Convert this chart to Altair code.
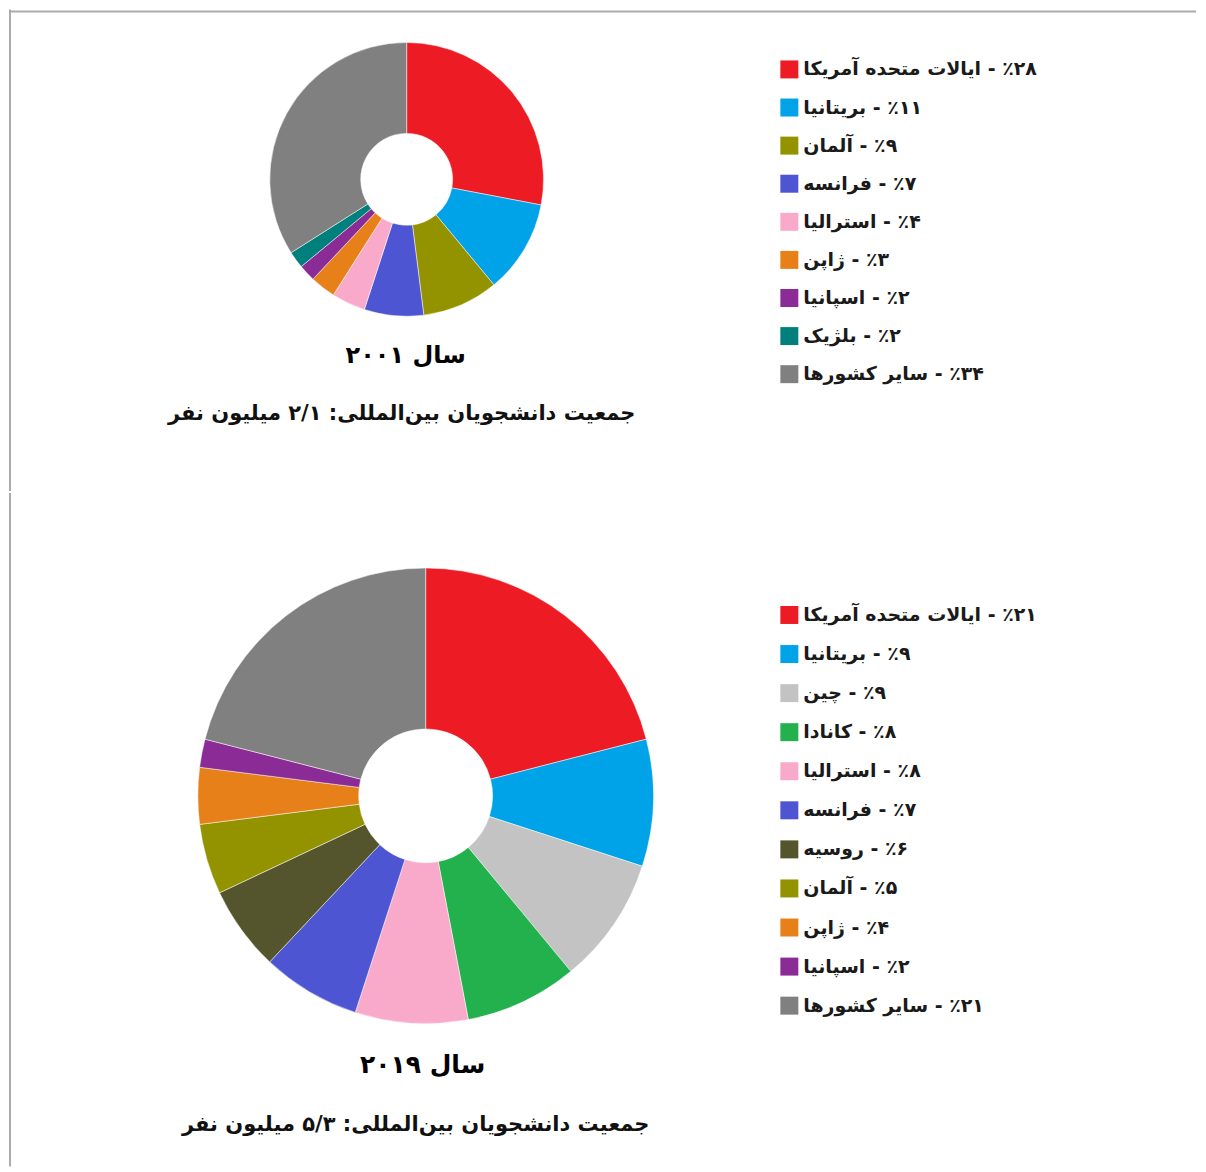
import altair as alt
import pandas as pd

# ---------------- data ----------------
names_2001 = ["ایالات متحده آمریکا", "بریتانیا", "آلمان", "فرانسه", "استرالیا",
              "ژاپن", "اسپانیا", "بلژیک", "سایر کشورها"]
values_2001 = [28, 11, 9, 7, 4, 3, 2, 2, 34]
colors_2001 = ["#ED1C24", "#00A2E8", "#939300", "#4D55D3", "#F9A9CA",
               "#E8801A", "#8B2B95", "#00807C", "#808080"]

names_2019 = ["ایالات متحده آمریکا", "بریتانیا", "چین", "کانادا", "استرالیا",
              "فرانسه", "روسیه", "آلمان", "ژاپن", "اسپانیا", "سایر کشورها"]
values_2019 = [21, 9, 9, 8, 8, 7, 6, 5, 4, 2, 21]
colors_2019 = ["#ED1C24", "#00A2E8", "#C3C3C3", "#22B14C", "#F9A9CA",
               "#4D55D3", "#55552D", "#939300", "#E8801A", "#8B2B95", "#808080"]

years = ["2001", "2019"]
totals = ["2/1", "5/3"]  # million students (Persian decimal separator)

FA = str.maketrans("0123456789", "۰۱۲۳۴۵۶۷۸۹")
RLI, PDI = "\u2067", "\u2069"


def fa(s):
    return str(s).translate(FA)


def rtl(s):
    return RLI + s + PDI


FONT = "DejaVu Sans"
BORDER = "#ABABAB"
W = 1190


def make_row(names, values, colors, year, total, H, cx, cy, r_out, r_in,
             title_xy, sub_xy, leg_y0, leg_y1, title_size):
    df = pd.DataFrame({
        "idx": list(range(len(names))),
        "name": names,
        "value": values,
        "color": colors,
    })
    df["label"] = [rtl("٪" + fa(v) + " - " + n) for n, v in zip(names, values)]

    arcs = alt.Chart(df).mark_arc(
        outerRadius=r_out, innerRadius=r_in, stroke="#ffffff", strokeWidth=0.5
    ).encode(
        theta=alt.Theta("value:Q", stack=True),
        order=alt.Order("idx:Q"),
        color=alt.Color("color:N", scale=None),
        x=alt.value(cx),
        y=alt.value(cy),
    )

    yscale = alt.Scale(domain=[0, len(names) - 1], range=[leg_y0, leg_y1])
    squares = alt.Chart(df).mark_square(size=324, opacity=1).encode(
        x=alt.value(781),
        y=alt.Y("idx:Q", scale=yscale, axis=None),
        color=alt.Color("color:N", scale=None),
    )
    labels = alt.Chart(df).mark_text(
        align="left", baseline="middle", font=FONT, fontSize=19,
        fontWeight="bold", color="#1a1a1a"
    ).encode(
        x=alt.value(795),
        y=alt.Y("idx:Q", scale=yscale, axis=None),
        text="label:N",
    )

    tdf = pd.DataFrame({
        "title": [rtl("سال " + fa(year))],
        "sub": [rtl("جمعیت دانشجویان بین\u200cالمللی: " + fa(total) + " میلیون نفر")],
    })
    title = alt.Chart(tdf).mark_text(
        align="center", baseline="middle", font=FONT, fontSize=title_size,
        fontWeight="bold", color="#000000"
    ).encode(x=alt.value(title_xy[0]), y=alt.value(title_xy[1]), text="title:N")
    sub = alt.Chart(tdf).mark_text(
        align="center", baseline="middle", font=FONT, fontSize=21,
        fontWeight="bold", color="#111111"
    ).encode(x=alt.value(sub_xy[0]), y=alt.value(sub_xy[1]), text="sub:N")

    left = alt.Chart(tdf).mark_rule(color=BORDER, strokeWidth=2).encode(
        x=alt.value(1), y=alt.value(0), y2=alt.value(H)
    )
    layers = [left, arcs, squares, labels, title, sub]
    return alt.layer(*layers).properties(width=W, height=H)


row1 = make_row(names_2001, values_2001, colors_2001, years[0], totals[0],
                H=482, cx=398, cy=170, r_out=137, r_in=46,
                title_xy=(397, 347), sub_xy=(393, 405), leg_y0=60, leg_y1=365,
                title_size=24)

top_border = alt.Chart(pd.DataFrame({"k": [0]})).mark_rule(
    color=BORDER, strokeWidth=2
).encode(x=alt.value(0), x2=alt.value(W - 2), y=alt.value(2))
row1 = alt.layer(top_border, *row1.layer).properties(width=W, height=482)

row2 = make_row(names_2019, values_2019, colors_2019, years[1], totals[1],
                H=674, cx=417, cy=303, r_out=228, r_in=67,
                title_xy=(414, 572), sub_xy=(407, 632), leg_y0=122, leg_y1=513,
                title_size=25)

chart = alt.vconcat(row1, row2, spacing=0).properties(
    padding=0, background="#ffffff"
).configure_view(strokeWidth=0)

chart.save("out.html", embed_options={"renderer": "svg", "actions": False})
